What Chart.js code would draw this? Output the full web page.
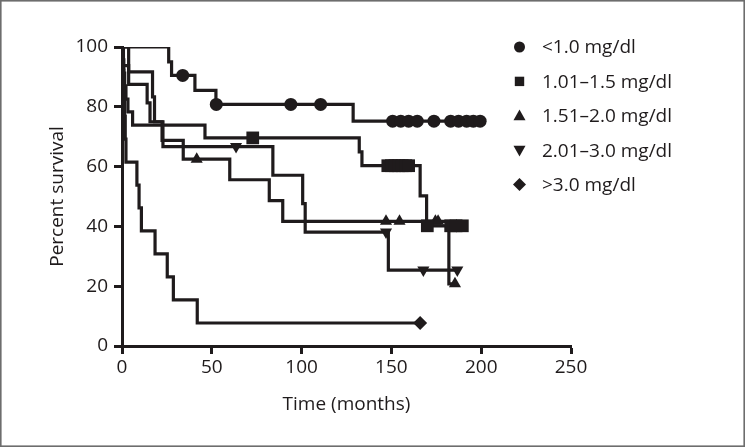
<!DOCTYPE html>
<html>
<head>
<meta charset="utf-8">
<script src="https://cdn.jsdelivr.net/npm/chart.js@4.4.1/dist/chart.umd.min.js"></script>
<style>
  html, body { margin: 0; padding: 0; background: #ffffff; }
  #wrap { position: relative; width: 745px; height: 447px; }
  canvas { display: block; }
</style>
</head>
<body>
<div id="wrap"><canvas id="c" width="745" height="447"></canvas></div>
<script>
// ---------- data ----------
const groupLabels = ['<1.0 mg/dl', '1.01\u20131.5 mg/dl', '1.51\u20132.0 mg/dl', '2.01\u20133.0 mg/dl', '>3.0 mg/dl'];

const xTickValues = [0, 50, 100, 150, 200, 250];
const yTickValues = [0, 20, 40, 60, 80, 100];
const xTitle = 'Time (months)';
const yTitle = 'Percent survival';

// <1.0 mg/dl
const g1Time = [0, 26, 27.6, 40.6, 52.3, 128.7, 199.4];
const g1Surv = [100, 95.0, 90.5, 85.5, 80.8, 75.2, 75.2];
const g1CensorTime = [33.8, 52.5, 94, 110.6, 150.7, 155.2, 159.6, 164.4, 173.7, 183, 187.4, 191.9, 195.6, 199.4];
const g1CensorSurv = [90.5, 80.8, 80.8, 80.8, 75.2, 75.2, 75.2, 75.2, 75.2, 75.2, 75.2, 75.2, 75.2, 75.2];

// 1.01–1.5 mg/dl
const g2Time = [0, 0.5, 1, 1.5, 2.2, 3.3, 5.9, 46.2, 132.1, 133.6, 166, 169.6, 189.5];
const g2Surv = [100, 95.7, 91.3, 87.0, 82.6, 78.3, 73.9, 69.6, 64.9, 60.3, 50.2, 40.2, 40.2];
const g2CensorTime = [72.8, 148, 150, 152, 154, 156, 158, 159.6, 170, 183, 186, 189.5];
const g2CensorSurv = [69.6, 60.3, 60.3, 60.3, 60.3, 60.3, 60.3, 60.3, 40.2, 40.2, 40.2, 40.2];

// 1.51–2.0 mg/dl
const g3Time = [0, 0.8, 3.7, 14, 15.6, 22.3, 34.1, 60, 82, 89.5, 182, 185.4];
const g3Surv = [100, 93.8, 87.5, 81.3, 75.0, 68.8, 62.5, 55.6, 48.6, 41.7, 20.8, 20.8];
const g3CensorTime = [41.6, 147, 154.5, 174.5, 176, 185.4];
const g3CensorSurv = [62.5, 41.7, 41.7, 41.7, 41.7, 20.8];

// 2.01–3.0 mg/dl
const g4Time = [0, 3.7, 17, 18.1, 22.8, 84, 100.6, 102, 148.3, 186.7];
const g4Surv = [100, 91.7, 83.3, 75.0, 66.7, 57.1, 47.6, 38.1, 25.4, 25.4];
const g4CensorTime = [63.5, 147, 167.8, 186.7];
const g4CensorSurv = [66.7, 38.1, 25.4, 25.4];

// >3.0 mg/dl
const g5Time = [0, 0.6, 1.0, 1.4, 1.8, 2.2, 8.3, 9.5, 10.8, 18.4, 25.2, 28.6, 41.9, 166];
const g5Surv = [100, 92.3, 84.6, 76.9, 69.2, 61.5, 53.8, 46.2, 38.5, 30.8, 23.1, 15.4, 7.7, 7.7];
const g5CensorTime = [166];
const g5CensorSurv = [7.7];

// ---------- build datasets ----------
const INK = '#1f1b1c';
const FONT = '"Open Sans", "Noto Sans", sans-serif';

const groups = [
  { t: g1Time, s: g1Surv, ct: g1CensorTime, cs: g1CensorSurv, style: 'circle', rot: 0, r: 6.5 },
  { t: g2Time, s: g2Surv, ct: g2CensorTime, cs: g2CensorSurv, style: 'rect', rot: 0, r: 9 },
  { t: g3Time, s: g3Surv, ct: g3CensorTime, cs: g3CensorSurv, style: 'triangle', rot: 0, r: 7 },
  { t: g4Time, s: g4Surv, ct: g4CensorTime, cs: g4CensorSurv, style: 'triangle', rot: 180, r: 7 },
  { t: g5Time, s: g5Surv, ct: g5CensorTime, cs: g5CensorSurv, style: 'rectRot', rot: 0, r: 7 }
];

const zip = (xs, ys) => xs.map((x, i) => ({ x: x, y: ys[i] }));

const datasets = [];
groups.forEach((g, i) => {
  datasets.push({
    label: groupLabels[i] + ' curve',
    data: zip(g.t, g.s),
    stepped: 'before',
    borderColor: INK,
    borderWidth: 3.2,
    pointRadius: 0,
    fill: false,
    order: 10 - i
  });
  datasets.push({
    label: groupLabels[i],
    data: zip(g.ct, g.cs),
    showLine: false,
    pointStyle: g.style,
    pointRotation: g.rot,
    pointRadius: g.r,
    pointBackgroundColor: INK,
    pointBorderColor: INK,
    pointBorderWidth: 0,
    order: 0
  });
});

// ---------- legend drawn inside the plot region ----------
function drawMarker(ctx, style, x, y) {
  ctx.beginPath();
  if (style === 'circle') {
    ctx.arc(x, y, 5.5, 0, Math.PI * 2);
  } else if (style === 'square') {
    ctx.rect(x - 4.7, y - 4.7, 9.4, 9.4);
  } else if (style === 'up') {
    ctx.moveTo(x, y - 6.2); ctx.lineTo(x + 6, y + 4.5); ctx.lineTo(x - 6, y + 4.5); ctx.closePath();
  } else if (style === 'down') {
    ctx.moveTo(x, y + 6.2); ctx.lineTo(x + 6, y - 4.5); ctx.lineTo(x - 6, y - 4.5); ctx.closePath();
  } else if (style === 'diamond') {
    ctx.moveTo(x, y - 6.5); ctx.lineTo(x + 6.5, y); ctx.lineTo(x, y + 6.5); ctx.lineTo(x - 6.5, y); ctx.closePath();
  }
  ctx.fill();
}
const legendMarkers = ['circle', 'square', 'up', 'down', 'diamond'];

const legendPlugin = {
  id: 'insideLegend',
  afterDraw(chart) {
    const ctx = chart.ctx;
    ctx.save();
    ctx.fillStyle = INK;
    ctx.font = '19px ' + FONT;
    ctx.textBaseline = 'middle';
    ctx.textAlign = 'left';
    groupLabels.forEach((lab, i) => {
      const y = 47 + i * 34.4;
      drawMarker(ctx, legendMarkers[i], 519.5, y);
      ctx.fillText(lab, 542, y + 1);
    });
    ctx.restore();
  }
};

const framePlugin = {
  id: 'frame',
  beforeDraw(chart) {
    const ctx = chart.ctx;
    ctx.save();
    ctx.fillStyle = '#ffffff';
    ctx.fillRect(0, 0, chart.width, chart.height);
    ctx.restore();
  },
  afterDraw(chart) {
    const ctx = chart.ctx;
    ctx.save();
    ctx.strokeStyle = '#6d6d6d';
    ctx.lineWidth = 1.6;
    ctx.strokeRect(0.8, 0.8, chart.width - 1.6, chart.height - 1.6);
    ctx.restore();
  }
};

new Chart(document.getElementById('c'), {
  type: 'line',
  data: { datasets: datasets },
  options: {
    responsive: false,
    animation: false,
    devicePixelRatio: 1,
    layout: { padding: { top: 47, right: 174, bottom: 0, left: 0 } },
    plugins: { legend: { display: false }, tooltip: { enabled: false } },
    scales: {
      x: {
        type: 'linear',
        min: 0, max: 250,
        afterBuildTicks: (s) => { s.ticks = xTickValues.map(v => ({ value: v })); },
        afterFit: (s) => { s.height = 101; },
        ticks: { color: INK, font: { family: FONT, size: 19 }, padding: 2, maxRotation: 0 },
        grid: { display: true, drawOnChartArea: false, drawTicks: true, tickLength: 8, tickWidth: 3, tickColor: INK },
        border: { display: true, color: INK, width: 3 },
        title: { display: true, text: xTitle, color: INK, font: { family: FONT, size: 19 }, padding: { top: 0, bottom: 30.6 } }
      },
      y: {
        type: 'linear',
        min: 0, max: 100,
        afterBuildTicks: (s) => { s.ticks = yTickValues.map(v => ({ value: v })); },
        afterFit: (s) => { s.width = 122; },
        ticks: { color: INK, font: { family: FONT, size: 19 }, padding: 6 },
        grid: { display: true, drawOnChartArea: false, drawTicks: true, tickLength: 8, tickWidth: 3, tickColor: INK },
        border: { display: true, color: INK, width: 3 },
        title: { display: true, text: yTitle, color: INK, font: { family: FONT, size: 19 }, padding: { top: 46.6, bottom: 0 } }
      }
    }
  },
  plugins: [framePlugin, legendPlugin]
});
</script>
</body>
</html>
